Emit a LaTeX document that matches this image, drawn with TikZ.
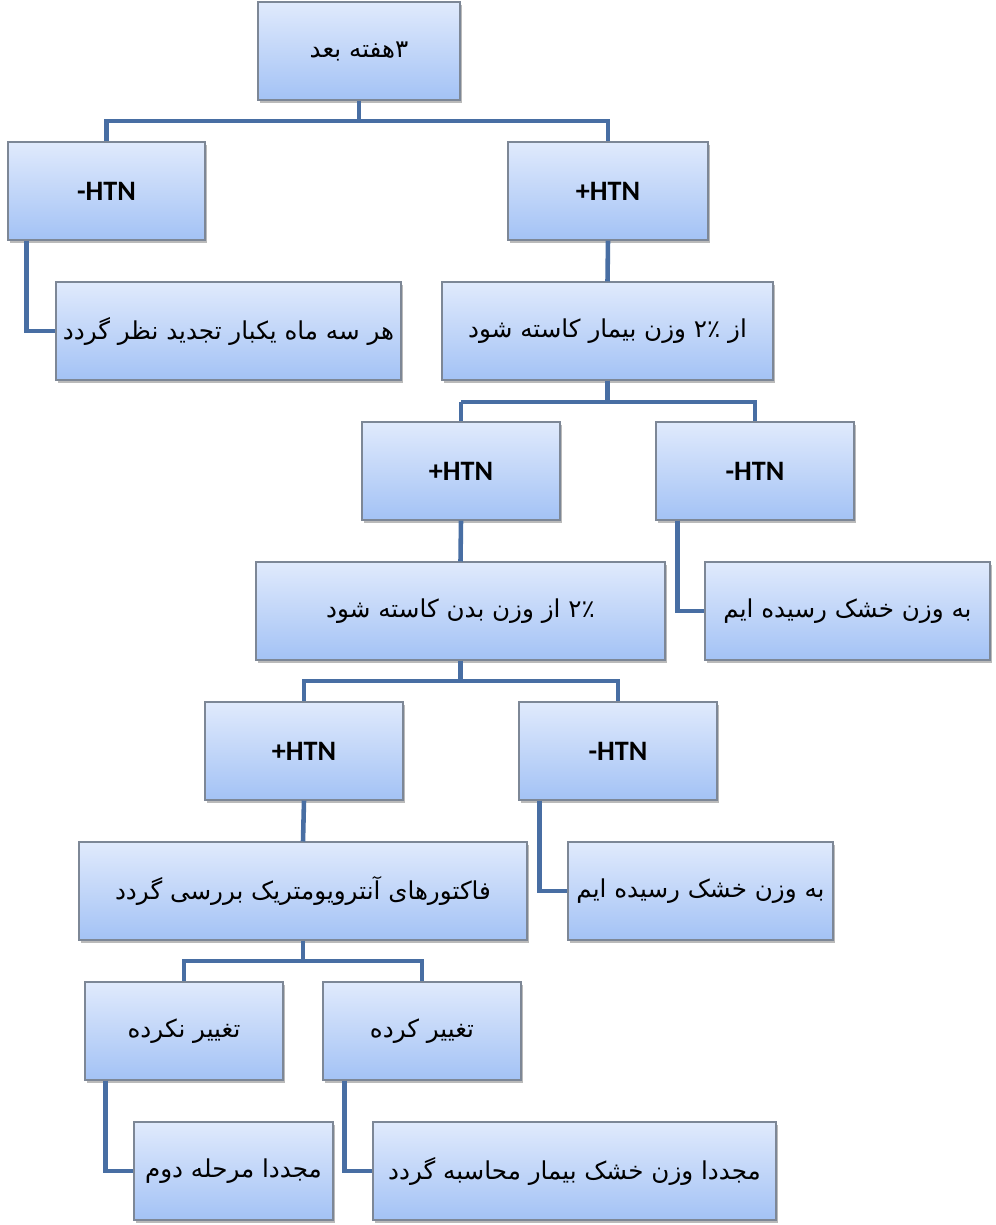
\documentclass[tikz,border=0pt]{standalone}
\usepackage{fontspec}
\usepackage{tikz}
\usetikzlibrary{shadows,calc}
\TeXXeTstate=1
\newfontfamily\arabicfont[Script=Arabic]{DejaVu Sans}
\newfontfamily\htnfont{Carlito}
\newcommand{\fa}[1]{{\arabicfont\beginR #1\endR}}
\definecolor{linkblue}{RGB}{72,110,163}
\definecolor{boxtop}{RGB}{224,234,252}
\definecolor{boxbot}{RGB}{163,194,245}
\definecolor{boxedge}{RGB}{125,135,150}

\begin{document}
\begin{tikzpicture}[
			box/.style={rectangle, draw=boxedge, line width=0.6pt, top color=boxtop, bottom color=boxbot, minimum height=1.96cm, minimum width=3.96cm, inner sep=2pt, drop shadow={shadow xshift=1.2pt, shadow yshift=-1.6pt, fill=black!45, opacity=0.6}},
			htn/.style={box, font=\htnfont\bfseries\fontsize{16}{19}\selectfont},
			txt/.style={box, font=\fontsize{14}{18}\selectfont},
			link/.style={draw=linkblue, line width=2.6pt}
			]
			\useasboundingbox (0,0) rectangle (19.92,-24.5);
			
			% --------------------------------------------------------------------
			% level 0 and 1
			% --------------------------------------------------------------------
			\node[txt, minimum width=4.04cm] (week) at (7.18,-1.02) {\fa{۳هفته بعد}};
			
			\node[htn, minimum width=3.94cm] (negA) at (2.13,-3.82) {-HTN};
			\node[htn, minimum width=4.0cm] (posA) at (12.16,-3.82) {+HTN};
			
			\node[txt, minimum width=6.9cm] (review) at (4.57,-6.62) {\fa{هر سه ماه یکبار تجدید نظر گردد}};
			\node[txt, minimum width=6.62cm] (loseA) at (12.15,-6.62) {\fa{از ۲٪ وزن بیمار کاسته شود}};
			
			\coordinate (j1) at (7.18,-2.42);
			\draw[link] (week.south) -- (j1);
			\draw[link] (j1) -| (negA.north);
			\draw[link] (j1) -| (posA.north);
			\draw[link] ([xshift=0.38cm]negA.south west) |- (review.west);
			\draw[link] (posA.south) -- (loseA.north);
			
			% --------------------------------------------------------------------
			% level 2
			% --------------------------------------------------------------------
			\node[htn] (posB) at (9.22,-9.42) {+HTN};
			\node[htn] (negB) at (15.1,-9.42) {-HTN};
			
			\node[txt, minimum width=8.18cm] (loseB) at (9.21,-12.22) {\fa{۲٪ از وزن بدن کاسته شود}};
			\node[txt, minimum width=5.7cm] (dryA) at (16.95,-12.22) {\fa{به وزن خشک رسیده ایم}};
			
			\coordinate (j2) at (9.22,-8.04);
			\draw[link] (loseA.south) |- (j2);
			\draw[link] (j2) -| (posB.north);
			\draw[link] (j2) -| (negB.north);
			\draw[link] ([xshift=0.44cm]negB.south west) |- (dryA.west);
			\draw[link] (posB.south) -- (loseB.north);
			
			% --------------------------------------------------------------------
			% level 3
			% --------------------------------------------------------------------
			\node[htn] (posC) at (6.08,-15.02) {+HTN};
			\node[htn] (negC) at (12.36,-15.02) {-HTN};
			
			\node[txt, minimum width=8.96cm] (factors) at (6.06,-17.82) {\fa{فاکتورهای آنترویومتریک بررسی گردد}};
			\node[txt, minimum width=5.3cm] (dryB) at (14.01,-17.82) {\fa{به وزن خشک رسیده ایم}};
			
			\coordinate (j3) at (9.21,-13.62);
			\draw[link] (loseB.south) -- (j3);
			\draw[link] (j3) -| (posC.north);
			\draw[link] (j3) -| (negC.north);
			\draw[link] ([xshift=0.42cm]negC.south west) |- (dryB.west);
			\draw[link] (posC.south) -- (factors.north);
			
			% --------------------------------------------------------------------
			% level 4
			% --------------------------------------------------------------------
			\node[txt] (same) at (3.68,-20.62) {\fa{تغییر نکرده}};
			\node[txt] (changed) at (8.44,-20.62) {\fa{تغییر کرده}};
			
			\node[txt, minimum width=3.98cm] (again) at (4.67,-23.42) {\fa{مجددا مرحله دوم}};
			\node[txt, minimum width=8.06cm] (recalc) at (11.49,-23.42) {\fa{مجددا وزن خشک بیمار محاسبه گردد}};
			
			\coordinate (j4) at (6.06,-19.22);
			\draw[link] (factors.south) -- (j4);
			\draw[link] (j4) -| (same.north);
			\draw[link] (j4) -| (changed.north);
			\draw[link] ([xshift=0.42cm]same.south west) |- (again.west);
			\draw[link] ([xshift=0.44cm]changed.south west) |- (recalc.west);
			
		\end{tikzpicture}
\end{document}
